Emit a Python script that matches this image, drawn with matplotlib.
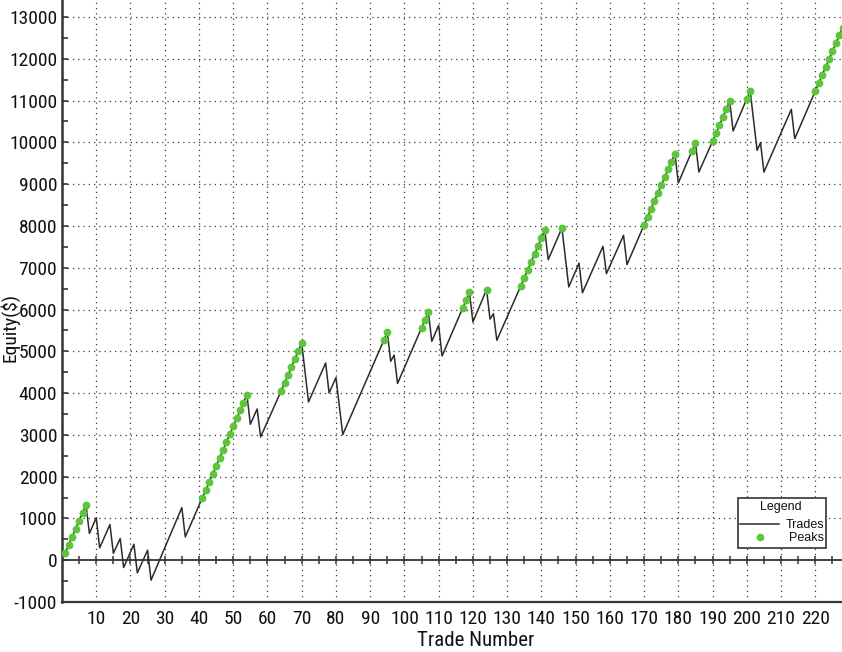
import numpy as np
import matplotlib
matplotlib.use("Agg")
import matplotlib.pyplot as plt
from matplotlib import font_manager as fm
from matplotlib.patches import Rectangle
from matplotlib.lines import Line2D
from matplotlib.ticker import MultipleLocator, FixedLocator

# ---- data (equity after each trade) ----
trade_numbers = list(range(1, 229))
equity = [
    184, 375, 566, 757, 948, 1140, 1332, 640, 828, 1015,
    295, 482, 668, 854, 167, 342, 518, -175, 11, 197,
    383, -303, -122, 58, 239, -478, -285, -92, 101, 294,
    487, 681, 874, 1067, 1260, 558, 745, 932, 1118, 1305,
    1491, 1681, 1871, 2062, 2252, 2442, 2632, 2822, 3012, 3203,
    3393, 3583, 3773, 3963, 3254, 3437, 3620, 2950, 3133, 3317,
    3500, 3683, 3867, 4050, 4241, 4433, 4624, 4816, 5007, 5199,
    4490, 3787, 3974, 4161, 4347, 4534, 4721, 4003, 4187, 4370,
    3690, 3007, 3195, 3384, 3572, 3760, 3948, 4137, 4325, 4514,
    4702, 4890, 5078, 5267, 5455, 4760, 4910, 4230, 4420, 4610,
    4800, 4990, 5180, 5371, 5561, 5751, 5941, 5239, 5430, 5622,
    4888, 5078, 5269, 5459, 5650, 5840, 6030, 6221, 6411, 5701,
    5895, 6089, 6282, 6476, 5770, 5900, 5263, 5449, 5634, 5820,
    6006, 6192, 6377, 6563, 6753, 6944, 7134, 7324, 7515, 7705,
    7895, 7193, 7383, 7572, 7762, 7951, 7245, 6539, 6729, 6920,
    7110, 6400, 6585, 6771, 6956, 7141, 7327, 7512, 6858, 7041,
    7225, 7408, 7592, 7775, 7074, 7265, 7456, 7648, 7839, 8030,
    8219, 8408, 8596, 8785, 8974, 9163, 9352, 9540, 9729, 9030,
    9222, 9414, 9606, 9798, 9990, 9290, 9474, 9657, 9841, 10024,
    10217, 10410, 10602, 10795, 10988, 10271, 10465, 10658, 10852, 11045,
    11220, 10510, 9809, 9992, 9290, 9478, 9665, 9853, 10040, 10228,
    10415, 10603, 10790, 10088, 10278, 10468, 10658, 10848, 11038, 11235,
    11418, 11608, 11798, 11988, 12178, 12368, 12558, 12748,
]
x_tick_labels = [str(v) for v in range(10, 230, 10)]
y_tick_values = list(range(-1000, 14000, 1000))

# ---- style ----
LINE_COL = "#2b2b2b"
GREEN = "#5cc53a"
GRID_COL = "#3a3a3a"


def _upright(f):
    low = f.fname.lower()
    return (f.style == "normal" and "italic" not in low and "oblique" not in low
            and "bold" not in low and "light" not in low and "thin" not in low
            and "medium" not in low and "black" not in low)


narrow_file = None
for pref in ["Liberation Sans Narrow", "Roboto Condensed", "Open Sans Condensed",
             "Noto Sans Condensed", "DejaVu Sans Condensed"]:
    cands = [f for f in fm.fontManager.ttflist if f.name == pref and _upright(f)]
    if cands:
        narrow_file = cands[0].fname
        break
if narrow_file is None:
    for f in fm.fontManager.ttflist:
        n = (f.name + " " + str(f.stretch) + " " + f.fname).lower()
        if ("condensed" in n or "narrow" in n) and _upright(f):
            narrow_file = f.fname
            break
if narrow_file:
    NFP = lambda size: fm.FontProperties(fname=narrow_file, size=size)
else:
    NFP = lambda size: fm.FontProperties(family="DejaVu Sans", size=size * 0.78)
REG = ["Liberation Sans", "DejaVu Sans"]

t = np.array(trade_numbers)
e = np.array(equity, dtype=float)
prev_max = np.concatenate([[0.0], np.maximum.accumulate(e)[:-1]])
is_peak = e > prev_max

W, H = 842, 652
fig = plt.figure(figsize=(W / 100, H / 100), dpi=100)
ax = fig.add_axes([62 / W, (H - 602) / H, (W - 62) / W, 602 / H])

ax.set_xlim(0, 227.8)
ax.set_ylim(-1000, 13407)

# grid
for xv in range(10, 230, 10):
    ax.axvline(xv, color=GRID_COL, lw=0.9, ls=(0, (1, 3.2)), zorder=1)
for yv in range(1000, 14000, 1000):
    ax.axhline(yv, color=GRID_COL, lw=0.9, ls=(0, (1, 3.2)), zorder=1)

# zero line with small ticks
zero_ticks = np.arange(5, 230, 5)
ax.axhline(0, color="#333333", lw=1.3, zorder=2)
ax.plot(zero_ticks, np.zeros(len(zero_ticks)), ls="none",
        marker="|", ms=6, mew=1.1, color="#333333", zorder=2)

ax.plot(t, e, color=LINE_COL, lw=1.1, zorder=3)
ax.plot(t[is_peak], e[is_peak], ls="none", marker="o", ms=4.6,
        color=GREEN, mec=GREEN, zorder=4)

# axes / ticks
for s in ["top", "right"]:
    ax.spines[s].set_visible(False)
ax.spines["left"].set_linewidth(1.8)
ax.spines["bottom"].set_linewidth(1.6)
ax.spines["left"].set_color("#333333")
ax.spines["bottom"].set_color("#333333")

ax.xaxis.set_major_locator(FixedLocator(list(range(10, 230, 10))))
ax.set_xticklabels(x_tick_labels)
ax.tick_params(axis="x", length=0, pad=6)
ax.yaxis.set_major_locator(FixedLocator(y_tick_values))
ax.set_yticklabels([str(v) for v in y_tick_values])
ax.yaxis.set_minor_locator(MultipleLocator(500))
ax.tick_params(axis="y", which="major", direction="in", length=4, width=1.2,
               pad=3.5, color="#333333")
ax.tick_params(axis="y", which="minor", direction="in", length=4, width=1.2,
               color="#333333")
for lab in ax.get_xticklabels():
    lab.set_fontproperties(NFP(14))
    lab.set_color("#111111")
for lab in ax.get_yticklabels():
    lab.set_fontproperties(NFP(14))
    lab.set_color("#111111")

ax.set_xlabel("Trade Number", fontproperties=NFP(15), color="#111111")
ax.set_ylabel("Equity($)", fontproperties=NFP(14), color="#111111")
ax.xaxis.set_label_coords((476 - 62) / 780, (602 - 641) / 602)
ax.yaxis.set_label_coords((10 - 62) / 780, (602 - 327) / 602)
ax.xaxis.label.set_va("center")
ax.yaxis.label.set_va("center")

# custom legend box
tr = ax.transAxes
bx0, bx1 = (738 - 62) / 780, (826 - 62) / 780
by0, by1 = (602 - 548) / 602, (602 - 498) / 602
ax.add_patch(Rectangle((bx0, by0), bx1 - bx0, by1 - by0, transform=tr,
                       facecolor="white", edgecolor="#333333", lw=1.2, zorder=6))
ax.text((781 - 62) / 780, (602 - 507) / 602, "Legend", transform=tr,
        ha="center", va="center", fontsize=9, family=REG, color="#111", zorder=7)
ax.add_line(Line2D([(740 - 62) / 780, (779 - 62) / 780],
                   [(602 - 524) / 602] * 2, transform=tr, color=LINE_COL,
                   lw=1.1, zorder=7))
ax.text((824 - 62) / 780, (602 - 525) / 602, "Trades", transform=tr,
        ha="right", va="center", fontsize=9, family=REG, color="#111", zorder=7)
ax.add_line(Line2D([(760 - 62) / 780], [(602 - 537) / 602], transform=tr,
                   ls="none", marker="o", ms=4.5, color=GREEN, mec=GREEN, zorder=7))
ax.text((824 - 62) / 780, (602 - 538) / 602, "Peaks", transform=tr,
        ha="right", va="center", fontsize=9, family=REG, color="#111", zorder=7)

fig.savefig("out.png", dpi=100)
